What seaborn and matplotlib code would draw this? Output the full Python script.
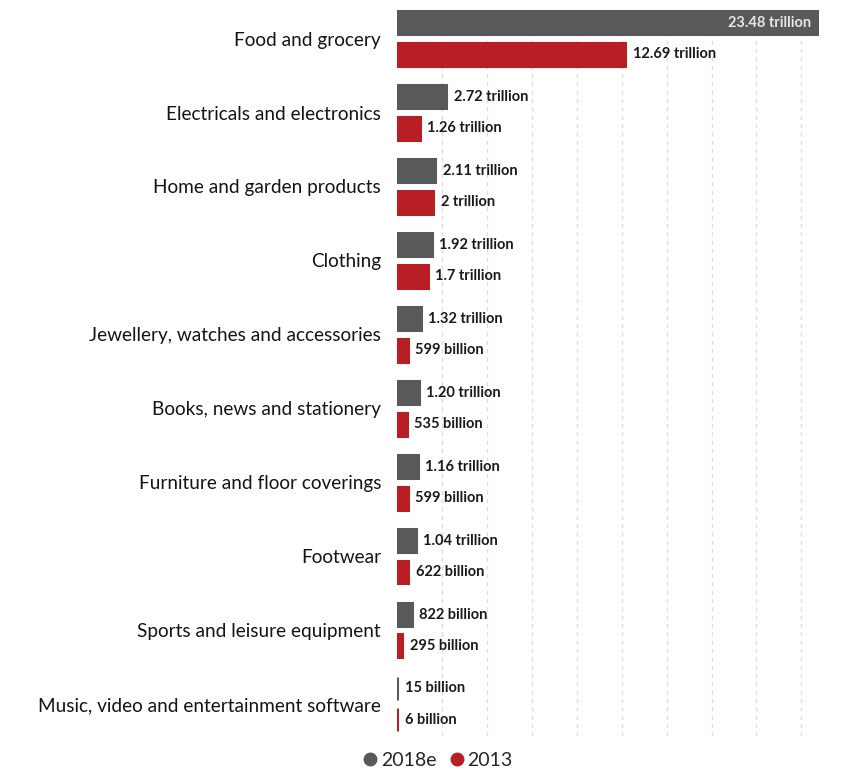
import matplotlib
matplotlib.use("Agg")
import matplotlib.pyplot as plt
from matplotlib.lines import Line2D
import seaborn as sns
import pandas as pd

categories = [
    "Food and grocery",
    "Electricals and electronics",
    "Home and garden products",
    "Clothing",
    "Jewellery, watches and accessories",
    "Books, news and stationery",
    "Furniture and floor coverings",
    "Footwear",
    "Sports and leisure equipment",
    "Music, video and entertainment software",
]
series_names = ["2018e", "2013"]
values_2018e = [23.48, 2.72, 2.11, 1.92, 1.32, 1.20, 1.16, 1.04, 0.822, 0.015]
values_2013 = [12.69, 1.26, 2.0, 1.7, 0.599, 0.535, 0.599, 0.622, 0.295, 0.006]
labels_2018e = ["23.48 trillion", "2.72 trillion", "2.11 trillion", "1.92 trillion",
                "1.32 trillion", "1.20 trillion", "1.16 trillion", "1.04 trillion",
                "822 billion", "15 billion"]
labels_2013 = ["12.69 trillion", "1.26 trillion", "2 trillion", "1.7 trillion",
               "599 billion", "535 billion", "599 billion", "622 billion",
               "295 billion", "6 billion"]

GRAY = "#58595b"
RED = "#b71f25"

df = pd.DataFrame({
    "category": categories * 2,
    "series": [series_names[0]] * len(categories) + [series_names[1]] * len(categories),
    "value": values_2018e + values_2013,
})

sns.set_theme(style="white")
plt.rcParams["font.family"] = ["Lato", "DejaVu Sans"]

fig = plt.figure(figsize=(8.45, 7.71), dpi=100)
ax = fig.add_axes([397 / 845, 1 - 736 / 771, 422 / 845, 727 / 771])

sns.barplot(data=df, y="category", x="value", hue="series", orient="h",
            palette=[GRAY, RED], width=0.85, gap=0.27, saturation=1,
            order=categories, hue_order=series_names, legend=False, ax=ax, zorder=3)

# outline each bar in its own colour so very small values stay visible
for patch in ax.patches:
    patch.set_edgecolor(patch.get_facecolor())
    patch.set_linewidth(2.2)
    patch.set_joinstyle("miter")

ax.set_xlim(0, 23.48)
ax.set_ylim(9.43, -0.4)
ax.set_xticks([2.5 * k for k in range(1, 10)])
ax.grid(axis="x", color="#dcdcdc", linestyle=(0, (3, 3)), linewidth=1, zorder=0)
ax.grid(axis="y", visible=False)
ax.tick_params(axis="x", labelbottom=False, length=0)
ax.tick_params(axis="y", length=0, pad=11.5, labelsize=13.7, labelcolor="#141414")
for s in ax.spines.values():
    s.set_visible(False)
ax.set_xlabel("")
ax.set_ylabel("")

# value labels next to each bar
for cont, labels, vals in zip(ax.containers, [labels_2018e, labels_2013],
                              [values_2018e, values_2013]):
    for bar, lab, v in zip(cont, labels, vals):
        y = bar.get_y() + bar.get_height() / 2
        if v > 20:
            ax.annotate(lab, (v, y), xytext=(-6, 0), textcoords="offset points",
                        ha="right", va="center", fontsize=10.5, color="#e6e6e6",
                        fontweight="bold", zorder=5)
        else:
            ax.annotate(lab, (v, y), xytext=(5.5, 0), textcoords="offset points",
                        ha="left", va="center", fontsize=10.5, color="#1a1a1a",
                        fontweight="bold", zorder=5)

handles = [Line2D([], [], marker="o", linestyle="", markersize=9, color=GRAY),
           Line2D([], [], marker="o", linestyle="", markersize=9, color=RED)]
fig.legend(handles, series_names, loc="center", bbox_to_anchor=(437 / 845, 1 - 760 / 771),
           ncol=2, frameon=False, fontsize=14, handletextpad=0.1, columnspacing=0.6,
           handlelength=0.9, borderaxespad=0)

fig.savefig("out.png", dpi=100)
